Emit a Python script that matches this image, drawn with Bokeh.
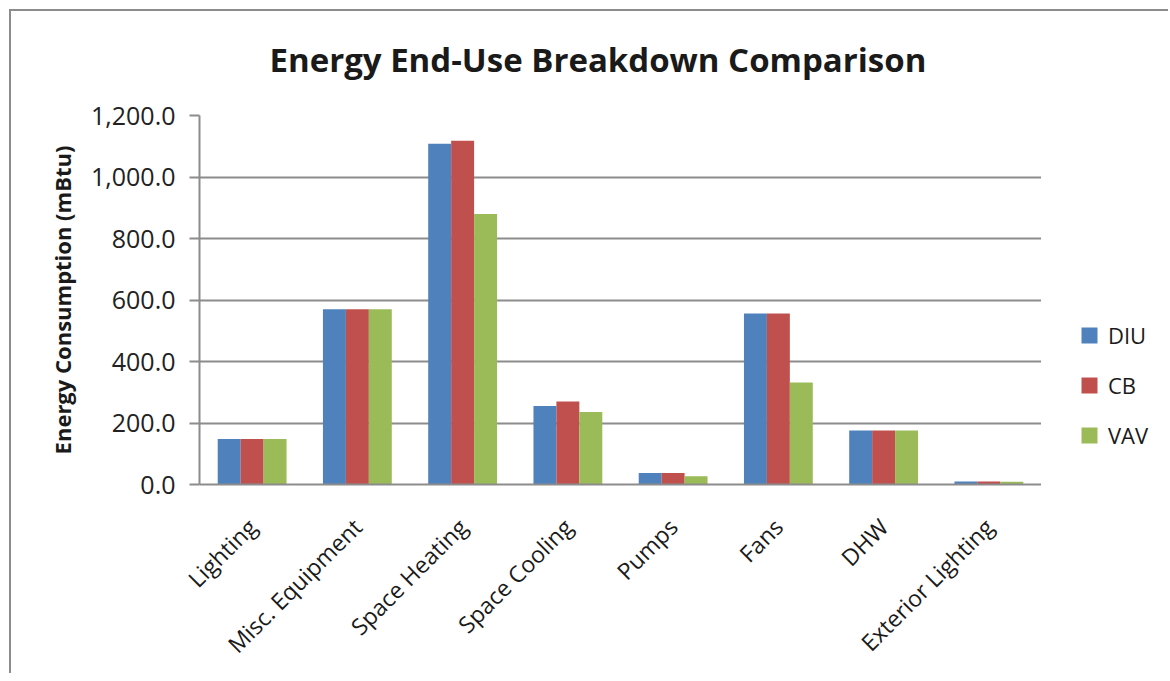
from bokeh.plotting import figure
from bokeh.layouts import row
from bokeh.models import (FactorRange, Range1d, FixedTicker, NumeralTickFormatter,
                          ColumnDataSource, Legend, LegendItem)
from bokeh.transform import dodge
from bokeh.embed import file_html
from bokeh.resources import INLINE
from math import pi

categories = ["Lighting", "Misc. Equipment", "Space Heating", "Space Cooling",
              "Pumps", "Fans", "DHW", "Exterior Lighting"]
series_names = ["DIU", "CB", "VAV"]
diu = [148, 570, 1108, 255, 37, 556, 176, 10]
cb = [148, 570, 1118, 270, 37, 556, 176, 10]
vav = [148, 570, 880, 236, 27, 332, 176, 9]
y_ticks = [0, 200, 400, 600, 800, 1000, 1200]
title_text = "Energy End-Use Breakdown Comparison"
y_label = "Energy Consumption (mBtu)"

colors = ["#4F81BD", "#C0504D", "#9BBB59"]
FONT = "Open Sans"
GRID = "#8c8c8c"

src = ColumnDataSource(dict(cat=categories, DIU=diu, CB=cb, VAV=vav))

H = 673
p = figure(x_range=FactorRange(*categories, range_padding=0),
           y_range=Range1d(0, 1200),
           width=1030, height=H, output_backend="svg", toolbar_location=None,
           min_border_left=188, min_border_right=0, min_border_top=115,
           min_border_bottom=185)
p.outline_line_color = None
p.background_fill_color = "white"
p.border_fill_alpha = 0
p.styles = {"margin-top": "-11px"}

# title
p.title.text = title_text
p.title.align = "left"
p.title.offset = 70
p.title.standoff = 67
p.title.text_font = FONT
p.title.text_font_style = "bold"
p.title.text_font_size = "33px"
p.title.text_color = "#1a1a1a"

bw = 0.218
offsets = [-bw, 0.0, bw]
for name, off, col in zip(series_names, offsets, colors):
    p.vbar(x=dodge("cat", off, range=p.x_range), top=name, width=bw,
           source=src, fill_color=col, line_color=None)

# y axis
p.yaxis.ticker = FixedTicker(ticks=y_ticks)
p.yaxis.formatter = NumeralTickFormatter(format="0,0.0")
p.yaxis.axis_line_color = GRID
p.yaxis.axis_line_width = 2
p.yaxis.major_tick_line_color = GRID
p.yaxis.major_tick_line_width = 2
p.yaxis.major_tick_out = 10
p.yaxis.major_tick_in = 0
p.yaxis.minor_tick_line_color = None
p.yaxis.major_label_standoff = 14
p.yaxis.major_label_text_font = FONT
p.yaxis.major_label_text_font_size = "25px"
p.yaxis.major_label_text_color = "#222222"
p.yaxis.axis_label = y_label
p.yaxis.axis_label_text_font = FONT
p.yaxis.axis_label_text_font_style = "bold"
p.yaxis.axis_label_text_font_size = "22px"
p.yaxis.axis_label_text_color = "#1a1a1a"
p.yaxis.axis_label_standoff = 11

# x axis
p.xaxis.axis_line_color = GRID
p.xaxis.axis_line_width = 2
p.xaxis.major_tick_line_color = None
p.xaxis.minor_tick_line_color = None
p.xaxis.major_label_orientation = pi / 4
p.xaxis.major_label_standoff = 32
p.xaxis.major_label_text_font = FONT
p.xaxis.major_label_text_font_size = "23px"
p.xaxis.major_label_text_color = "#1a1a1a"

p.xgrid.grid_line_color = None
p.ygrid.grid_line_color = GRID
p.ygrid.grid_line_width = 2

# legend panel (separate canvas to the right of the plot area)
p2 = figure(x_range=p.x_range, y_range=p.y_range,
            width=127, height=H, output_backend="svg", toolbar_location=None,
            x_axis_location=None, y_axis_location=None, min_border=0)
p2.outline_line_color = None
p2.grid.grid_line_color = None
p2.background_fill_alpha = 0
p2.border_fill_alpha = 0
p2.styles = {"margin-top": "-11px"}
leg_renderers = []
for name, off, col in zip(series_names, offsets, colors):
    r = p2.vbar(x=dodge("cat", off, range=p.x_range), top=name, width=bw,
                source=src, fill_color=col, line_color=None)
    r.visible = False
    leg_renderers.append(r)
legend = Legend(items=[LegendItem(label=n, renderers=[r]) for n, r in zip(series_names, leg_renderers)],
                location=(38, 34), orientation="vertical",
                glyph_width=20, glyph_height=20, label_height=20,
                spacing=20, padding=0, margin=0, label_standoff=9,
                label_text_font=FONT, label_text_font_size="22px",
                label_text_color="#1a1a1a",
                inactive_fill_alpha=0,
                border_line_color=None, background_fill_alpha=0)
p2.add_layout(legend, "center")

layout = row(p, p2, spacing=0)
layout.styles = {"border-left": "2px solid #8c8c8c", "border-top": "2px solid #8c8c8c",
                 "margin-left": "9px", "margin-top": "9px"}

open("out.html", "w").write(file_html(layout, INLINE))
